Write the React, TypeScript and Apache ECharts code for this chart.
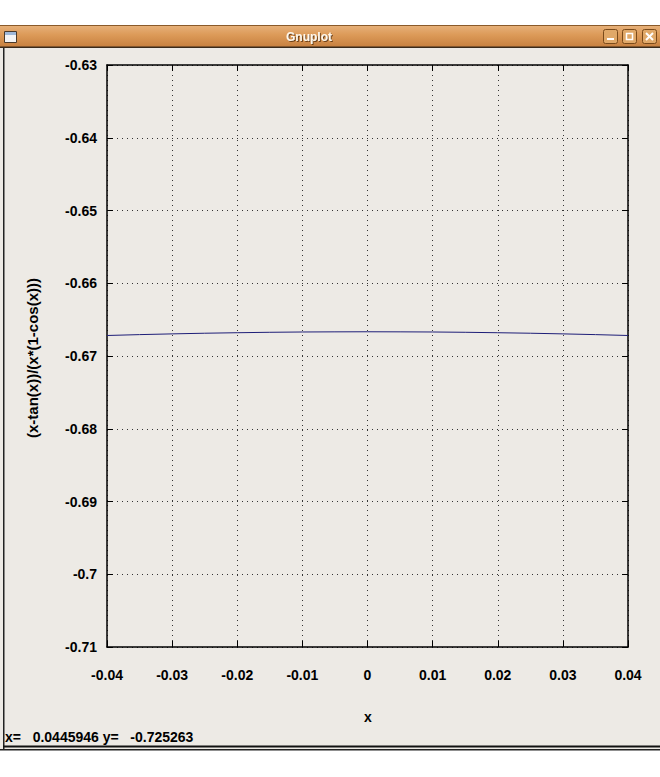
import React, { useEffect, useRef } from "react";
import * as echarts from "echarts";

const xValues = [-0.04, -0.035, -0.03, -0.025, -0.02, -0.015, -0.01, -0.005, 0, 0.005, 0.01, 0.015, 0.02, 0.025, 0.03, 0.035, 0.04];
const yValues = [-0.66718, -0.66706, -0.66696, -0.66687, -0.6668, -0.66674, -0.6667, -0.66668, -0.66667, -0.66668, -0.6667, -0.66674, -0.6668, -0.66687, -0.66696, -0.66706, -0.66718];
const xRange = { min: -0.04, max: 0.04, step: 0.01 };
const yRange = { min: -0.71, max: -0.63, step: 0.01 };
const windowTitle = "Gnuplot";
const xAxisName = "x";
const yAxisName = "(x-tan(x))/(x*(1-cos(x)))";
const statusText = "x=   0.0445946 y=   -0.725263";

const FONT = "'Liberation Sans', Arial, Helvetica, sans-serif";

function fmt(v: number) {
  const r = Math.round(v * 1000) / 1000;
  if (Math.abs(r) < 1e-9) return "0";
  return String(r);
}

export default function App() {
  const ref = useRef<HTMLDivElement>(null);
  useEffect(() => {
    document.body.style.margin = "0";
    const chart = echarts.init(ref.current!, undefined, { renderer: "svg" });
    const data = xValues.map((x, i) => [x, yValues[i]]);
    const tickCommon = { show: true, inside: true, length: 6, lineStyle: { color: "#000", width: 1 } };
    const gridLine = { show: true, lineStyle: { color: "#333", type: [1, 4] as any, width: 1 } };
    const labelStyle = { color: "#000", fontFamily: FONT, fontSize: 14, fontWeight: "bold" as any };
    const axisLine = { show: true, onZero: false, lineStyle: { color: "#000", width: 1.5 } };
    chart.setOption({
      animation: false,
      backgroundColor: "#ffffff",
      grid: { left: 107, right: 32, top: 65, bottom: 130, containLabel: false },
      xAxis: [
        {
          type: "value",
          min: xRange.min,
          max: xRange.max,
          interval: xRange.step,
          position: "bottom",
          axisLine,
          axisTick: tickCommon,
          splitLine: gridLine,
          axisLabel: { ...labelStyle, margin: 21, formatter: (v: number) => fmt(v) },
        },
        {
          type: "value",
          min: xRange.min,
          max: xRange.max,
          interval: xRange.step,
          position: "top",
          axisLine,
          axisTick: tickCommon,
          splitLine: { show: false },
          axisLabel: { show: false },
        },
      ],
      yAxis: [
        {
          type: "value",
          min: yRange.min,
          max: yRange.max,
          interval: yRange.step,
          position: "left",
          axisLine,
          axisTick: tickCommon,
          splitLine: gridLine,
          axisLabel: { ...labelStyle, margin: 10, formatter: (v: number) => fmt(v) },
        },
        {
          type: "value",
          min: yRange.min,
          max: yRange.max,
          interval: yRange.step,
          position: "right",
          axisLine,
          axisTick: tickCommon,
          splitLine: { show: false },
          axisLabel: { show: false },
        },
      ],
      series: [
        {
          type: "line",
          data,
          xAxisIndex: 0,
          yAxisIndex: 0,
          showSymbol: false,
          smooth: false,
          lineStyle: { color: "#1e1e78", width: 1 },
          z: 5,
        },
      ],
      graphic: [
        { type: "rect", z: -10, silent: true, shape: { x: 0, y: 47, width: 660, height: 702 }, style: { fill: "#edeae5" } },
        { type: "rect", z: -9, silent: true, shape: { x: 3, y: 47, width: 1.5, height: 702 }, style: { fill: "#222" } },
        { type: "rect", z: -9, silent: true, shape: { x: 3, y: 745.5, width: 657, height: 2 }, style: { fill: "#111" } },
        { type: "rect", z: -9, silent: true, shape: { x: 0, y: 749, width: 660, height: 1.5 }, style: { fill: "#222" } },
        {
          type: "rect",
          z: -8,
          silent: true,
          shape: { x: 0, y: 25, width: 660, height: 22 },
          style: {
            fill: new echarts.graphic.LinearGradient(0, 0, 0, 1, [
              { offset: 0, color: "#e7b27c" },
              { offset: 0.45, color: "#dc9a58" },
              { offset: 1, color: "#c7803f" },
            ]),
          },
        },
        { type: "rect", z: -7, silent: true, shape: { x: 0, y: 25, width: 660, height: 1 }, style: { fill: "#8a5a2a" } },
        { type: "rect", z: -7, silent: true, shape: { x: 0, y: 46.5, width: 660, height: 1.5 }, style: { fill: "#3a2a1a" } },
        { type: "rect", z: -6, silent: true, shape: { x: 4.5, y: 31.5, width: 12, height: 11 }, style: { fill: "#f4f4f4", stroke: "#4a3a2a", lineWidth: 1 } },
        { type: "rect", z: -6, silent: true, shape: { x: 5, y: 32, width: 11, height: 3 }, style: { fill: "#9fb8d8" } },
        {
          type: "text",
          z: -5,
          silent: true,
          x: 309,
          y: 37,
          style: {
            text: windowTitle,
            fill: "#fff7ea",
            font: "bold 12px " + FONT,
            align: "center",
            verticalAlign: "middle",
            textShadowColor: "#6a4018",
            textShadowBlur: 1,
            textShadowOffsetX: 1,
            textShadowOffsetY: 1,
          },
        },
        { type: "rect", z: -5, silent: true, shape: { x: 603.5, y: 29.5, width: 14, height: 14, r: 2 }, style: { fill: "#e0a868", stroke: "#7a4a1a", lineWidth: 1 } },
        { type: "rect", z: -4, silent: true, shape: { x: 607, y: 38, width: 7, height: 2 }, style: { fill: "#fff" } },
        { type: "rect", z: -5, silent: true, shape: { x: 622.5, y: 29.5, width: 14, height: 14, r: 2 }, style: { fill: "#e0a868", stroke: "#7a4a1a", lineWidth: 1 } },
        { type: "rect", z: -4, silent: true, shape: { x: 626.5, y: 33.5, width: 6, height: 6 }, style: { fill: "none", stroke: "#fff", lineWidth: 1.5 } },
        { type: "rect", z: -5, silent: true, shape: { x: 642.5, y: 29.5, width: 14, height: 14, r: 2 }, style: { fill: "#e0a868", stroke: "#7a4a1a", lineWidth: 1 } },
        { type: "line", z: -4, silent: true, shape: { x1: 646, y1: 33, x2: 653, y2: 40 }, style: { stroke: "#fff", lineWidth: 2 } },
        { type: "line", z: -4, silent: true, shape: { x1: 653, y1: 33, x2: 646, y2: 40 }, style: { stroke: "#fff", lineWidth: 2 } },
        {
          type: "text",
          silent: true,
          x: 368,
          y: 717,
          style: { text: xAxisName, fill: "#000", font: "bold 14px " + FONT, align: "center", verticalAlign: "middle" },
        },
        {
          type: "text",
          silent: true,
          x: 32,
          y: 358,
          rotation: Math.PI / 2,
          style: { text: yAxisName, fill: "#000", font: "bold 15px " + FONT, align: "center", verticalAlign: "middle" },
        },
        {
          type: "text",
          silent: true,
          x: 5,
          y: 737,
          style: { text: statusText, fill: "#000", font: "bold 14px " + FONT, align: "left", verticalAlign: "middle" },
        },
      ],
    });
    return () => chart.dispose();
  }, []);
  return (
    <div
      ref={ref}
      style={{ position: "absolute", left: 0, top: 0, width: 660, height: 777, background: "#fff" }}
    />
  );
}
